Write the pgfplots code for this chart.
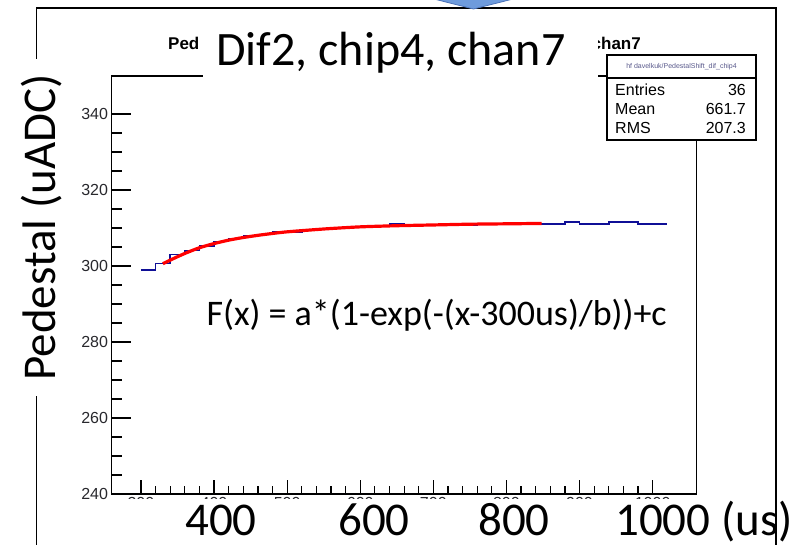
\documentclass[border=0pt]{standalone}
\usepackage{fontspec}
\setmainfont{Carlito}
\newfontfamily\rootfont{Liberation Sans}
\usepackage{pgfplots}
\pgfplotsset{compat=1.18}
\definecolor{rootblue}{RGB}{15,15,150}
\definecolor{rootred}{RGB}{255,0,0}
\definecolor{arrowfill}{RGB}{110,155,220}
\definecolor{arrowline}{RGB}{75,115,185}
\definecolor{labgray}{RGB}{40,40,45}
\definecolor{hdrgray}{RGB}{90,90,140}

\begin{document}
\begin{tikzpicture}
\path[use as bounding box] (0,0) rectangle (802pt,545pt);

%% ROOT histogram frame, 1 px of the screenshot = 1 pt here
\begin{axis}[
  at={(111.7pt,51pt)}, anchor=south west,
  scale only axis, width=584.8pt, height=418pt,
  xmin=260, xmax=1060, ymin=240, ymax=350,
  xtick={300,400,...,1000}, minor x tick num=4,
  ytick={240,260,...,340}, minor y tick num=3,
  tick align=inside, tick pos=left,
  axis line style={line width=1.4pt},
  x tick style={line width=1.2pt, black,
    /pgfplots/major tick length=14pt, /pgfplots/minor tick length=8pt},
  y tick style={line width=1.2pt, black,
    /pgfplots/major tick length=19pt, /pgfplots/minor tick length=10pt},
  tick label style={font=\rootfont\fontsize{16}{16}\selectfont, text=labgray},
  /pgf/number format/assume math mode=true,
  /pgf/number format/1000 sep={},
  xticklabel style={inner sep=0pt, yshift=-3pt},
  yticklabel style={inner sep=0pt, xshift=-3.5pt},
]
%% pedestal per 20 us bin
\addplot[rootblue, line width=1.5pt, const plot mark left] coordinates {
  (300,298.9) (320,300.6) (340,303.0) (360,304.1) (380,305.3) (400,306.4)
  (420,307.2) (440,307.9) (460,308.3) (480,309.0) (500,308.9) (520,309.5)
  (540,309.8) (560,310.1) (580,310.3) (600,310.1) (620,310.5) (640,311.0)
  (660,310.7) (680,310.9) (700,310.9) (720,310.8) (740,310.6) (760,311.1)
  (780,311.2) (800,311.4) (820,311.2) (840,311.1) (860,311.1) (880,311.6)
  (900,311.0) (920,311.1) (940,311.6) (960,311.6) (980,311.0) (1000,311.0)
  (1020,311.0)};
%% fitted curve
\addplot[rootred, line width=3.2pt, smooth, tension=0.4] coordinates {
  (330,300.6) (345,302.0) (360,303.3) (380,304.8) (400,305.9) (420,306.8)
  (440,307.5) (465,308.2) (495,308.9) (520,309.3) (555,309.8) (600,310.3)
  (650,310.6) (700,310.8) (750,311.0) (800,311.1) (848,311.2)};
\end{axis}

%% slide overlay, in screenshot pixels (y down)
\begin{scope}[x=1pt, y=-1pt, yshift=545pt]
\draw[line width=1.8pt] (36.5,546) -- (36.5,8) -- (776,8) -- (776,546);
\filldraw[fill=arrowfill, draw=arrowline, line width=0.8pt]
  (430,-2) -- (517,-2) -- (473.5,9) -- cycle;

\node[anchor=base west, inner sep=0, font=\rootfont\bfseries\fontsize{17}{17}\selectfont]
  at (168,50) {Ped};
\node[anchor=base east, inner sep=0, font=\rootfont\bfseries\fontsize{17}{17}\selectfont]
  at (641,50) {chan7};
\fill[white] (203,24) rectangle (598,86);
\node[anchor=base west, inner sep=0, font=\fontsize{48}{48}\selectfont]
  at (216,66) {Dif2, chip4, chan7};

%% stat box
\filldraw[fill=white, line width=1.4pt] (607,55) rectangle (756,140);
\draw[line width=1.2pt] (607,78) -- (756,78);
\node[inner sep=0, font=\rootfont\fontsize{7}{7}\selectfont, text=hdrgray]
  at (681.5,67) {hf davelkuk/PedestalShift\_dif\_chip4};
\begin{scope}[every node/.style={inner sep=0, font=\rootfont\fontsize{16}{16}\selectfont}]
\node[anchor=base west] at (615,96) {Entries};
\node[anchor=base east] at (746,96) {36};
\node[anchor=base west] at (615,115) {Mean};
\node[anchor=base east] at (746,115) {661.7};
\node[anchor=base west] at (615,134) {RMS};
\node[anchor=base east] at (746,134) {207.3};
\end{scope}

\node[anchor=base east, inner sep=0, font=\fontsize{36}{36}\selectfont]
  at (667,326) {F(x) = a*(1-exp(-(x-300us)/b))+c};

%% big axis captions over the ROOT labels
\fill[white] (118,499) rectangle (770,546);
\begin{scope}[every node/.style={anchor=base west, inner sep=0, font=\fontsize{47}{47}\selectfont}]
\node at (185,536) {400};
\node at (338,536) {600};
\node at (478,536) {800};
\node at (615,536) {1000 (us)};
\end{scope}
\node[rotate=90, anchor=base, fill=white, inner xsep=15pt, inner ysep=3pt,
  font=\fontsize{47}{47}\selectfont] at (55,227.5) {Pedestal (uADC)};
\draw[line width=1.8pt] (776,8) -- (776,546);
\end{scope}
\end{tikzpicture}
\end{document}
